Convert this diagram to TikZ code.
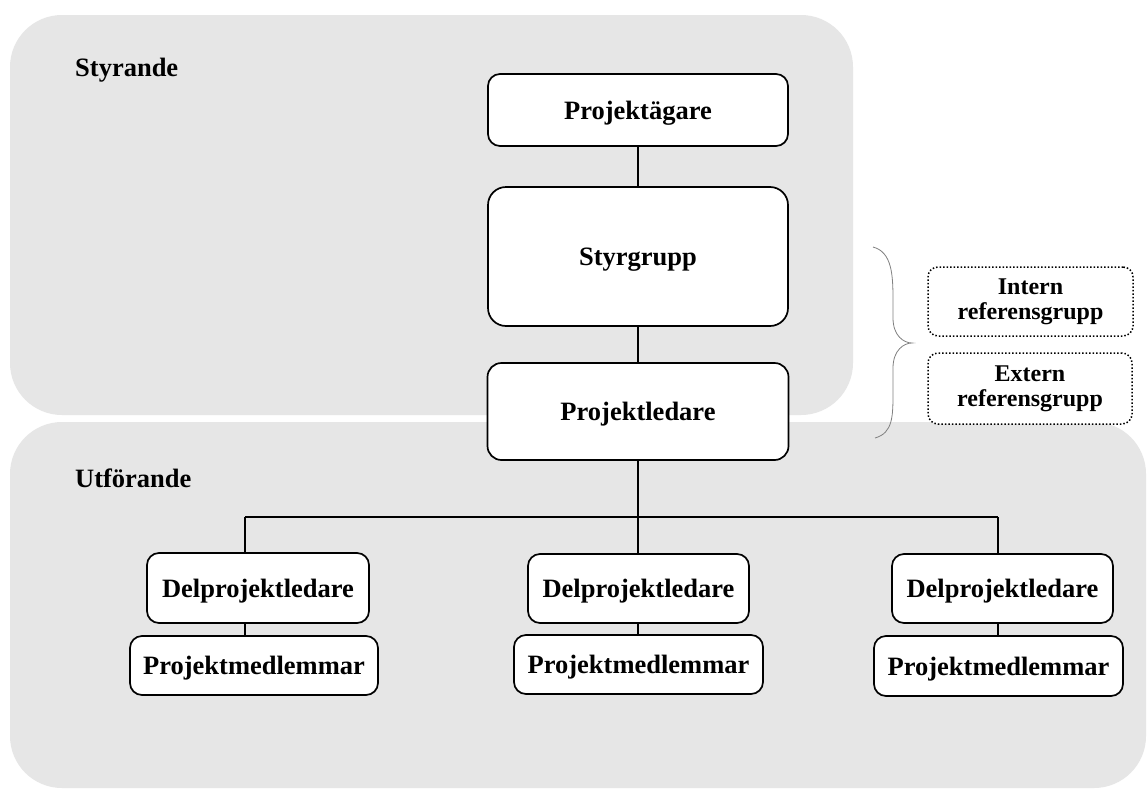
\documentclass[tikz,border=0pt]{standalone}
\usepackage{fontspec}
\setmainfont{Liberation Serif}
\begin{document}
\begin{tikzpicture}[x=1pt,y=-1pt,
  region/.style={fill=bgray, draw=none, rounded corners=52pt},
  orgbox/.style={draw=black, fill=white, line width=1.7pt, rounded corners=12pt,
     inner sep=0pt, align=center, text depth=0pt, font=\fontsize{26.5}{28}\selectfont\bfseries},
  refbox/.style={draw=black, fill=white, line width=1.5pt, dotted, rounded corners=10pt,
     inner sep=0pt, align=center, font=\fontsize{24}{25}\selectfont\bfseries},
  link/.style={draw=black, line width=1.8pt},
  lbl/.style={font=\fontsize{26.5}{28}\selectfont\bfseries, anchor=west, inner sep=0pt}]
\definecolor{bgray}{RGB}{230,230,230}
\useasboundingbox (0,0) rectangle (1148,790);
\fill[white] (0,0) rectangle (1148,790);
% regions
\path[region] (10,15) rectangle (853,415);
\path[region] (10,422) rectangle (1146,788);
\node[lbl] (lstyr) at (75,70) {Styrande};
\node[lbl] (lutf) at (75,478) {Utförande};
% boxes
\node[orgbox, minimum width=300pt, minimum height=72pt] (pag) at (638,110) {Projektägare};
\node[orgbox, minimum width=300pt, minimum height=139pt, rounded corners=18pt] (sg) at (638,256.5) {Styrgrupp};
\node[orgbox, minimum width=301pt, minimum height=97pt, rounded corners=14pt] (pl) at (638,411.5) {Projektledare};
\node[orgbox, minimum width=222pt, minimum height=70pt] (d1) at (258,588) {Delprojektledare};
\node[orgbox, minimum width=248pt, minimum height=59pt] (m1) at (254,665.5) {Projektmedlemmar};
\node[orgbox, minimum width=221pt, minimum height=69pt] (d2) at (638.5,588.5) {Delprojektledare};
\node[orgbox, minimum width=249pt, minimum height=59pt] (m2) at (638.5,664.5) {Projektmedlemmar};
\node[orgbox, minimum width=221pt, minimum height=69pt] (d3) at (1002.5,588.5) {Delprojektledare};
\node[orgbox, minimum width=249pt, minimum height=60pt] (m3) at (998.5,666) {Projektmedlemmar};
% reference groups
\node[refbox, minimum width=205pt, minimum height=69pt] (ir) at (1030.5,301.5) {Intern\\referensgrupp};
\node[refbox, minimum width=204pt, minimum height=71pt] (er) at (1030,388.5) {Extern\\referensgrupp};
% connectors
\coordinate (b1) at (245,517);
\coordinate (b2) at (638,517);
\coordinate (b3) at (998,517);
\draw[link] (pag.south) -- (sg.north);
\draw[link] (sg.south) -- (pl.north);
\draw[link] (pl.south) -- (pl.south |- b2);
\draw[link] (b1) -- (b3);
\draw[link] (b1) -- (b1 |- d1.north);
\draw[link] (b2) -- (b2 |- d2.north);
\draw[link] (b3) -- (b3 |- d3.north);
\draw[link] (d1.south -| b1) -- (b1 |- m1.north);
\draw[link] (d2.south -| b2) -- (b2 |- m2.north);
\draw[link] (d3.south -| b3) -- (b3 |- m3.north);
% brace
\coordinate (btip) at (912,343);
\draw[gray, line width=0.8pt] (873,247) .. controls (892,252) and (893,275) .. (893,300)
  -- (893,318) .. controls (893,336) and (904,343) .. (btip)
  .. controls (904,343) and (893,350) .. (893,368)
  -- (893,392) .. controls (893,416) and (893,433) .. (875,438);
\end{tikzpicture}
\end{document}
